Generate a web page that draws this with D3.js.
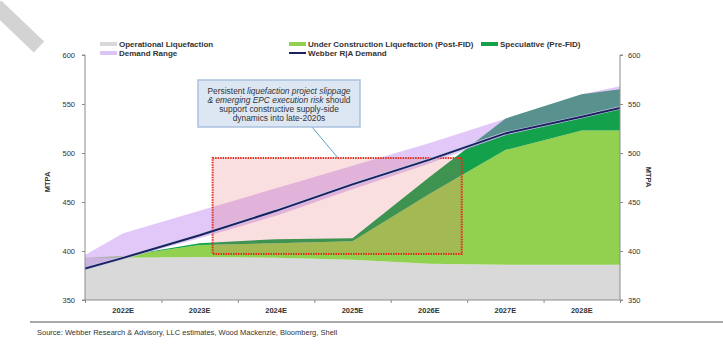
<!DOCTYPE html>
<html>
<head>
<meta charset="utf-8">
<script src="https://cdn.jsdelivr.net/npm/d3@7"></script>
<style>
  body { margin: 0; background: #fff; }
  svg { font-family: "Liberation Sans", Arial, sans-serif; }
  .axis path, .axis line { stroke: #8c8c8c; }
  .axis text { fill: #333; font-size: 7.5px; }
</style>
</head>
<body>
<svg id="chart" width="723" height="360"></svg>
<script>
// x positions of the data points (half-year edges plus category centres)
const years = [2021.5, 2022, 2023, 2024, 2025, 2026, 2027, 2028, 2028.5];
const categories = ['2022E', '2023E', '2024E', '2025E', '2026E', '2027E', '2028E'];

// MTPA, stacked
const operational = [393, 393, 394, 393, 391, 387, 386, 386, 386];
const underConstruction = [0, 2, 12, 15, 19, 71, 117, 137, 137];
const speculative = [0, 0, 2, 4, 3, 17, 32, 37, 42];

// demand
const demand = [382, 393, 416, 441, 468, 493, 520, 537, 546];
const demandLow = [382, 392, 413, 436, 463, 489, 518, 536, 545];
const demandHigh = [396, 418, 441, 464, 487, 510, 535, 560, 568];

const yTicks = [350, 400, 450, 500, 550, 600];

// highlighted window (years / MTPA)
const boxYears = [2023.17, 2026.43];
const boxValues = [397, 495];

const svg = d3.select('#chart');
const pLeft = 85, pRight = 620, pTop = 55, pBottom = 300;

const x = d3.scaleLinear().domain([2021.5, 2028.5]).range([pLeft, pRight]);
const xBand = d3.scaleBand().domain(categories).range([pLeft, pRight]);
const y = d3.scaleLinear().domain([350, 600]).range([pBottom, pTop]);

const rows = years.map((yr, i) => ({
  year: yr,
  operational: operational[i],
  underConstruction: underConstruction[i],
  speculative: speculative[i]
}));

const stack = d3.stack().keys(['operational', 'underConstruction', 'speculative']);
const series = stack(rows);
const colors = { operational: '#d9d9d9', underConstruction: '#92d050', speculative: '#14a14b' };

svg.append('clipPath').attr('id', 'plot')
  .append('rect').attr('x', pLeft).attr('y', pTop).attr('width', pRight - pLeft).attr('height', pBottom - pTop);

// watermark stripe top-left
svg.append('line')
  .attr('x1', -4).attr('y1', 6).attr('x2', 39).attr('y2', 47)
  .attr('stroke', '#d3d3d3').attr('stroke-width', 15);

const plot = svg.append('g').attr('clip-path', 'url(#plot)');

const area = d3.area()
  .x((d) => x(d.data.year))
  .y0((d) => y(Math.max(350, d[0])))
  .y1((d) => y(Math.max(350, d[1])));

plot.selectAll('.stack')
  .data(series)
  .enter()
  .append('path')
  .attr('class', 'stack')
  .attr('fill', (d) => colors[d.key])
  .attr('d', area);

// demand range band
const band = d3.area()
  .x((d, i) => x(years[i]))
  .y0((d, i) => y(demandLow[i]))
  .y1((d) => y(d));

plot.append('path')
  .datum(demandHigh)
  .attr('fill', 'rgba(186,125,238,0.42)')
  .attr('d', band);

// highlighted window
plot.append('rect')
  .attr('x', x(boxYears[0]))
  .attr('y', y(boxValues[1]))
  .attr('width', x(boxYears[1]) - x(boxYears[0]))
  .attr('height', y(boxValues[0]) - y(boxValues[1]))
  .attr('fill', 'rgba(228,95,100,0.2)')
  .attr('stroke', '#e0301e')
  .attr('stroke-width', 2)
  .attr('stroke-dasharray', '1.5,1');

// demand line
const line = d3.line()
  .x((d, i) => x(years[i]))
  .y((d) => y(d));

plot.append('path')
  .datum(demand)
  .attr('fill', 'none')
  .attr('stroke', '#c9cde6')
  .attr('stroke-width', 3.2)
  .attr('d', line);
plot.append('path')
  .datum(demand)
  .attr('fill', 'none')
  .attr('stroke', '#1b2060')
  .attr('stroke-width', 2)
  .attr('d', line);

// axes
svg.append('g')
  .attr('class', 'axis')
  .attr('transform', `translate(${pLeft},0)`)
  .call(d3.axisLeft(y).tickValues(yTicks).tickSize(3).tickPadding(7))
  .call((g) => g.select('.domain').attr('d', `M-3,${pTop}H0V${pBottom}H-3`));

svg.append('g')
  .attr('class', 'axis')
  .attr('transform', `translate(${pRight},0)`)
  .call(d3.axisRight(y).tickValues(yTicks).tickSize(3).tickPadding(5))
  .call((g) => g.select('.domain').attr('d', `M3,${pTop}H0V${pBottom}H3`));

svg.append('g')
  .attr('class', 'axis')
  .attr('transform', `translate(0,${pBottom})`)
  .call(d3.axisBottom(x).tickValues(d3.range(2021.5, 2029, 1)).tickSize(3).tickFormat(''))
  .call((g) => g.select('.domain').attr('d', `M${pLeft},0H${pRight}`));

svg.append('g')
  .attr('class', 'axis')
  .attr('transform', `translate(0,${pBottom})`)
  .call(d3.axisBottom(xBand).tickSize(0).tickPadding(8))
  .call((g) => g.select('.domain').remove())
  .selectAll('text').attr('font-weight', 'bold').attr('font-size', '7.5px');

svg.append('text')
  .attr('transform', 'translate(50,182) rotate(-90)')
  .attr('text-anchor', 'middle')
  .attr('font-size', '7.5px').attr('font-weight', 'bold').attr('fill', '#333')
  .text('MTPA');
svg.append('text')
  .attr('transform', 'translate(646,177) rotate(90)')
  .attr('text-anchor', 'middle')
  .attr('font-size', '7.5px').attr('font-weight', 'bold').attr('fill', '#333')
  .text('MTPA');

// legend
const legend = [
  { label: 'Operational Liquefaction', color: colors.operational, w: 4, x: 100, y: 44 },
  { label: 'Under Construction Liquefaction (Post-FID)', color: colors.underConstruction, w: 4, x: 289, y: 44 },
  { label: 'Speculative (Pre-FID)', color: colors.speculative, w: 4, x: 481, y: 44 },
  { label: 'Demand Range', color: '#dcc4f6', w: 4, x: 100, y: 53 },
  { label: 'Webber R|A Demand', color: '#1b2060', w: 2, x: 289, y: 53 }
];
const lg = svg.selectAll('.legend')
  .data(legend)
  .enter()
  .append('g')
  .attr('class', 'legend')
  .attr('transform', (d) => `translate(${d.x},${d.y})`);
lg.append('line')
  .attr('x1', 0).attr('x2', 17)
  .attr('stroke', (d) => d.color)
  .attr('stroke-width', (d) => d.w);
lg.append('text')
  .attr('x', 19).attr('dy', '0.35em')
  .attr('font-size', '8px').attr('font-weight', 'bold').attr('fill', '#333')
  .text((d) => d.label);

// callout
svg.append('line')
  .attr('x1', 312).attr('y1', 127).attr('x2', 338).attr('y2', 158)
  .attr('stroke', '#5aa6c4').attr('stroke-width', 1);
svg.append('rect')
  .attr('x', 198).attr('y', 80).attr('width', 162).attr('height', 47)
  .attr('fill', '#dde7f3').attr('stroke', '#a9c2de').attr('stroke-width', 1.5);

const callout = [
  [['Persistent ', false], ['liquefaction project slippage', true]],
  [['& emerging EPC execution risk', true], [' should', false]],
  [['support constructive supply-side', false]],
  [['dynamics into late-2020s', false]]
];
const ct = svg.append('text')
  .attr('text-anchor', 'middle')
  .attr('font-size', '8.4px').attr('fill', '#333');
callout.forEach((parts, i) => {
  const t = ct.append('tspan').attr('x', 279).attr('y', 93.5 + i * 9.3);
  parts.forEach(([s, it]) => {
    t.append('tspan').attr('font-style', it ? 'italic' : 'normal').text(s);
  });
});

// source
svg.append('line')
  .attr('x1', 30).attr('x2', 723).attr('y1', 322).attr('y2', 322)
  .attr('stroke', '#555').attr('stroke-width', 1.2);
svg.append('text')
  .attr('x', 37).attr('y', 335)
  .attr('font-size', '7.5px').attr('fill', '#333')
  .text('Source: Webber Research & Advisory, LLC estimates, Wood Mackenzie, Bloomberg, Shell');
</script>
</body>
</html>
